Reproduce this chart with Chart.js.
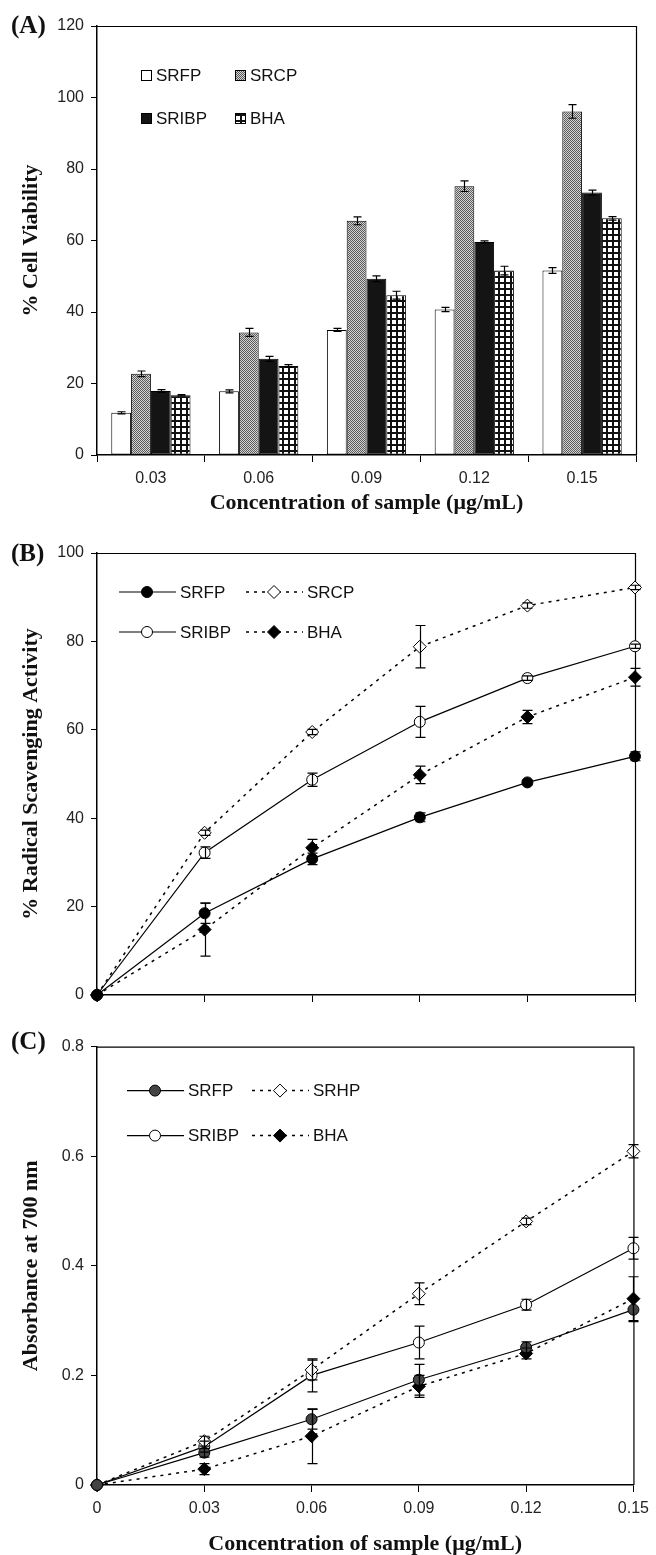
<!DOCTYPE html>
<html>
<head>
<meta charset="utf-8">
<script src="https://cdn.jsdelivr.net/npm/chart.js@4.4.0/dist/chart.umd.min.js"></script>
<style>
body { margin: 0; background: #fff; }
#wrap { position: relative; width: 656px; height: 1555px; }
canvas { position: absolute; left: 0; }
</style>
</head>
<body>
<div id="wrap">
  <canvas id="chartA" width="656" height="520" style="top:0px"></canvas>
  <canvas id="chartB" width="656" height="510" style="top:520px"></canvas>
  <canvas id="chartC" width="656" height="525" style="top:1030px"></canvas>
</div>
<script>
// ---- data ----
var concLabels = ['0.03', '0.06', '0.09', '0.12', '0.15'];

// (A) % cell viability
var srfpA    = [11.8, 17.8, 35.0, 40.7, 51.6];
var srfpAErr = [0.3, 0.4, 0.4, 0.6, 0.8];
var srcpA    = [22.7, 34.3, 65.5, 75.2, 96.1];
var srcpAErr = [0.8, 1.1, 1.1, 1.5, 1.9];
var sribpA   = [17.9, 26.9, 49.3, 59.6, 73.4];
var sribpAErr= [0.4, 0.7, 0.8, 0.3, 0.7];
var bhaA     = [16.7, 24.9, 44.7, 51.6, 66.2];
var bhaAErr  = [0.2, 0.4, 1.1, 1.2, 0.5];

// (B) % radical scavenging activity
var concX     = [0, 0.03, 0.06, 0.09, 0.12, 0.15];
var srfpB     = [0, 18.5, 30.8, 40.2, 48.1, 54.0];
var srfpBErr  = [0, 2.3, 1.3, 1.0, 0.5, 1.0];
var srcpB     = [0, 36.7, 59.5, 78.8, 88.1, 92.2];
var srcpBErr  = [0, 0.6, 0.6, 4.8, 0.6, 0.5];
var sribpB    = [0, 32.2, 48.7, 61.8, 71.7, 78.9];
var sribpBErr = [0, 1.3, 1.5, 3.5, 0.5, 0.5];
var bhaB      = [0, 14.8, 33.3, 49.8, 62.9, 71.9];
var bhaBErr   = [0, 6.0, 1.9, 2.0, 1.5, 2.0];

// (C) absorbance at 700 nm
var srfpC     = [0, 0.059, 0.120, 0.192, 0.251, 0.320];
var srfpCErr  = [0, 0.008, 0.018, 0.028, 0.010, 0.022];
var srhpC     = [0, 0.080, 0.210, 0.349, 0.481, 0.609];
var srhpCErr  = [0, 0.009, 0.018, 0.020, 0.006, 0.012];
var sribpC    = [0, 0.070, 0.200, 0.260, 0.329, 0.432];
var sribpCErr = [0, 0.010, 0.030, 0.030, 0.010, 0.020];
var bhaC      = [0, 0.029, 0.089, 0.180, 0.240, 0.340];
var bhaCErr   = [0, 0.010, 0.050, 0.020, 0.010, 0.040];

var xTicks = [0, 0.03, 0.06, 0.09, 0.12, 0.15];
var xTitle = 'Concentration of sample (\u03BCg/mL)';

Chart.defaults.font.family = "'Liberation Sans', Arial, sans-serif";
Chart.defaults.font.size = 16;
Chart.defaults.color = '#222';

function makePattern(kind) {
    var c = document.createElement('canvas');
    var g = c.getContext('2d');
    if (kind == 'check') {
        c.width = 2; c.height = 2;
        g.fillStyle = '#d4d4d4'; g.fillRect(0, 0, 2, 2);
        g.fillStyle = '#5a5a5a'; g.fillRect(0, 0, 1, 1); g.fillRect(1, 1, 1, 1);
    } else {
        c.width = 6; c.height = 6;
        g.fillStyle = '#fff'; g.fillRect(0, 0, 6, 6);
        g.fillStyle = '#111'; g.fillRect(0, 0, 6, 2); g.fillRect(0, 0, 2, 6);
    }
    return g.createPattern(c, 'repeat');
}

function xy(arr) {
    return arr.map(function(v, i) { return {x: concX[i], y: v}; });
}

// error bars drawn through the chart's own scales
var errorBars = {
    id: 'errorBars',
    afterDatasetsDraw: function(chart, args, opts) {
        var ctx = chart.ctx, ys = chart.scales.y;
        ctx.save();
        ctx.strokeStyle = '#000';
        ctx.lineWidth = 1.2;
        chart.data.datasets.forEach(function(ds, i) {
            if (!ds.errors) return;
            var meta = chart.getDatasetMeta(i);
            meta.data.forEach(function(el, j) {
                var e = ds.errors[j];
                if (!e) return;
                var v = (typeof ds.data[j] == 'object') ? ds.data[j].y : ds.data[j];
                var x = Math.round(el.x) + 0.5;
                var y1 = ys.getPixelForValue(v + e), y2 = ys.getPixelForValue(v - e);
                ctx.beginPath();
                ctx.moveTo(x, y1); ctx.lineTo(x, y2);
                ctx.moveTo(x - opts.cap, y1); ctx.lineTo(x + opts.cap, y1);
                ctx.moveTo(x - opts.cap, y2); ctx.lineTo(x + opts.cap, y2);
                ctx.stroke();
            });
        });
        ctx.restore();
    }
};

// top/right frame, panel letter, legend
var panelDeco = {
    id: 'panelDeco',
    beforeDatasetsDraw: function(chart) {
        var ctx = chart.ctx, a = chart.chartArea;
        ctx.save();
        ctx.strokeStyle = '#000';
        ctx.lineWidth = 1.2;
        ctx.beginPath();
        ctx.moveTo(a.left, a.top + 0.5);
        ctx.lineTo(a.right + 0.5, a.top + 0.5);
        ctx.lineTo(a.right + 0.5, a.bottom);
        ctx.stroke();
        ctx.restore();
    },
    afterDraw: function(chart, args, opts) {
        var ctx = chart.ctx, a = chart.chartArea;
        ctx.save();
        ctx.fillStyle = '#111';
        ctx.textBaseline = 'middle';
        ctx.textAlign = 'left';
        ctx.font = 'bold 25px "Liberation Serif", serif';
        ctx.fillText(opts.letter, 11, opts.letterY);

        ctx.font = '17px "Liberation Sans", Arial, sans-serif';
        ctx.strokeStyle = '#000';
        ctx.lineWidth = 1;
        chart.data.datasets.forEach(function(ds, i) {
            var col = i % 2, row = Math.floor(i / 2);
            var x = a.left + opts.colX[col], y = a.top + opts.rowY[row];
            if (opts.kind == 'bar') {
                ctx.fillStyle = ds.backgroundColor;
                ctx.fillRect(x, y - 5, 11, 11);
                ctx.strokeRect(x + 0.5, y - 4.5, 10, 10);
                ctx.fillStyle = '#111';
                ctx.fillText(ds.label, x + 15, y + 1);
            } else {
                ctx.lineWidth = ds.borderWidth;
                ctx.setLineDash(ds.borderDash || []);
                ctx.beginPath();
                ctx.moveTo(x, y); ctx.lineTo(x + 57, y);
                ctx.stroke();
                ctx.setLineDash([]);
                ctx.lineWidth = 1;
                ctx.fillStyle = ds.pointBackgroundColor;
                ctx.strokeStyle = ds.pointBorderColor;
                Chart.helpers.drawPoint(ctx, {pointStyle: ds.pointStyle, radius: ds.pointRadius, borderWidth: 1, rotation: 0}, x + 28, y);
                ctx.strokeStyle = '#000';
                ctx.fillStyle = '#111';
                ctx.fillText(ds.label, x + 61, y + 1);
            }
        });
        ctx.restore();
    }
};

function yAxis(min, max, step, title, fmt) {
    return {
        min: min, max: max,
        ticks: { stepSize: step, padding: 7, color: '#222', callback: fmt },
        grid: { display: true, drawOnChartArea: false, drawTicks: true, tickLength: 6, color: '#000' },
        border: { display: true, color: '#000', width: 1.5 },
        title: { display: true, text: title, color: '#111',
                 font: { family: "'Liberation Serif', serif", size: 22, weight: 'bold', lineHeight: 1 },
                 padding: { top: 20, bottom: 0 } },
        afterFit: function(scale) { scale.width = 97; }
    };
}

// ---------- (A) ----------
var ctxA = document.getElementById('chartA').getContext('2d');
var barBase = { borderColor: '#000', borderWidth: 1, borderSkipped: false, categoryPercentage: 0.735, barPercentage: 1.0 };
window.chartA = new Chart(ctxA, {
    type: 'bar',
    data: {
        labels: concLabels,
        datasets: [
            Object.assign({ label: 'SRFP', data: srfpA, errors: srfpAErr, backgroundColor: '#fff' }, barBase),
            Object.assign({ label: 'SRCP', data: srcpA, errors: srcpAErr, backgroundColor: makePattern('check') }, barBase),
            Object.assign({ label: 'SRIBP', data: sribpA, errors: sribpAErr, backgroundColor: '#141414' }, barBase),
            Object.assign({ label: 'BHA', data: bhaA, errors: bhaAErr, backgroundColor: makePattern('grid') }, barBase)
        ]
    },
    options: {
        responsive: false,
        animation: false,
        devicePixelRatio: 1,
        layout: { padding: { top: 26, right: 20, left: 0, bottom: 0 } },
        scales: {
            x: {
                ticks: { padding: 7, color: '#222' },
                grid: { display: true, drawOnChartArea: false, drawTicks: true, tickLength: 7, color: '#000', offset: true },
                border: { display: true, color: '#000', width: 1.5 },
                title: { display: true, text: xTitle, color: '#111',
                         font: { family: "'Liberation Serif', serif", size: 22, weight: 'bold', lineHeight: 1 },
                         padding: { top: 0, bottom: 6 } },
                afterFit: function(scale) { scale.height = 65; }
            },
            y: yAxis(0, 120, 20, '% Cell Viability')
        },
        plugins: {
            legend: { display: false },
            tooltip: { enabled: false },
            errorBars: { cap: 4 },
            panelDeco: { letter: '(A)', letterY: 27, kind: 'bar', colX: [44, 138], rowY: [49, 92] }
        }
    },
    plugins: [panelDeco, errorBars]
});

// ---------- line panels ----------
function lineSet(label, arr, errs, opt) {
    return {
        label: label, data: xy(arr), errors: errs,
        borderColor: '#000', borderWidth: opt.dash ? 1.5 : 1.2, borderDash: opt.dash ? [3, 5] : [],
        pointStyle: opt.style, pointRadius: opt.style == 'circle' ? 5.5 : 6.5,
        pointBackgroundColor: opt.fill, pointBorderColor: '#000', pointBorderWidth: 1,
        tension: 0, fill: false, clip: false
    };
}

function xLinear(showLabels, h, withTitle) {
    return {
        type: 'linear', min: 0, max: 0.15,
        afterBuildTicks: function(scale) { scale.ticks = xTicks.map(function(v) { return {value: v}; }); },
        ticks: { padding: 7, color: '#222', callback: function(v) { return showLabels ? String(+v.toFixed(2)) : ''; } },
        grid: { display: true, drawOnChartArea: false, drawTicks: true, tickLength: 7, color: '#000' },
        border: { display: true, color: '#000', width: 1.5 },
        title: { display: withTitle, text: xTitle, color: '#111',
                 font: { family: "'Liberation Serif', serif", size: 22, weight: 'bold', lineHeight: 1 },
                 padding: { top: 0, bottom: 0 } },
        afterFit: function(scale) { scale.height = h; }
    };
}

var ctxB = document.getElementById('chartB').getContext('2d');
window.chartB = new Chart(ctxB, {
    type: 'line',
    data: {
        datasets: [
            lineSet('SRFP', srfpB, srfpBErr, { style: 'circle', fill: '#000' }),
            lineSet('SRCP', srcpB, srcpBErr, { style: 'rectRot', fill: '#fff', dash: true }),
            lineSet('SRIBP', sribpB, sribpBErr, { style: 'circle', fill: '#fff' }),
            lineSet('BHA', bhaB, bhaBErr, { style: 'rectRot', fill: '#000', dash: true })
        ]
    },
    options: {
        responsive: false,
        animation: false,
        devicePixelRatio: 1,
        layout: { padding: { top: 33, right: 21, left: 0, bottom: 0 } },
        scales: {
            x: xLinear(false, 35, false),
            y: yAxis(0, 100, 20, '% Radical Scavenging Activity')
        },
        plugins: {
            legend: { display: false },
            tooltip: { enabled: false },
            errorBars: { cap: 5 },
            panelDeco: { letter: '(B)', letterY: 35, kind: 'line', colX: [22, 149], rowY: [39, 79] }
        }
    },
    plugins: [panelDeco, errorBars]
});

var ctxC = document.getElementById('chartC').getContext('2d');
window.chartC = new Chart(ctxC, {
    type: 'line',
    data: {
        datasets: [
            lineSet('SRFP', srfpC, srfpCErr, { style: 'circle', fill: '#444' }),
            lineSet('SRHP', srhpC, srhpCErr, { style: 'rectRot', fill: '#fff', dash: true }),
            lineSet('SRIBP', sribpC, sribpCErr, { style: 'circle', fill: '#fff' }),
            lineSet('BHA', bhaC, bhaCErr, { style: 'rectRot', fill: '#000', dash: true })
        ]
    },
    options: {
        responsive: false,
        animation: false,
        devicePixelRatio: 1,
        layout: { padding: { top: 13, right: 20, left: 0, bottom: 0 } },
        scales: {
            x: xLinear(true, 70, true),
            y: yAxis(0, 0.8, 0.2, 'Absorbance at 700 nm', function(v) { return String(+v.toFixed(1)); })
        },
        plugins: {
            legend: { display: false },
            tooltip: { enabled: false },
            errorBars: { cap: 5 },
            panelDeco: { letter: '(C)', letterY: 13, kind: 'line', colX: [30, 155], rowY: [44, 89] }
        }
    },
    plugins: [panelDeco, errorBars]
});
</script>
</body>
</html>
